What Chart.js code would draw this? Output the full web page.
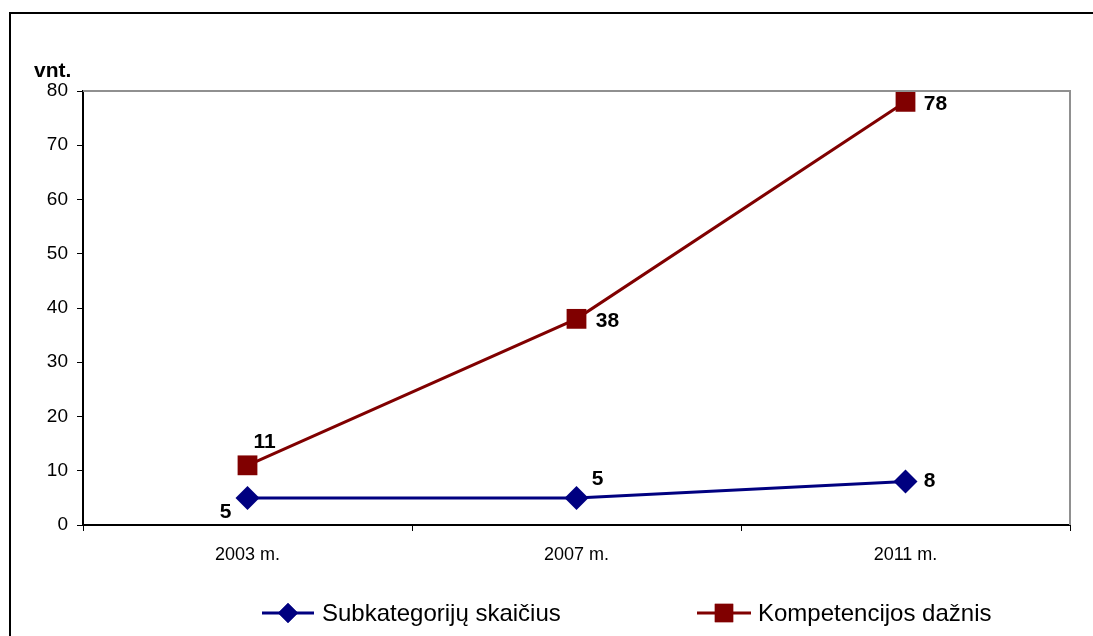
<!DOCTYPE html>
<html>
<head>
<meta charset="utf-8">
<script src="https://cdn.jsdelivr.net/npm/chart.js@4.4.0/dist/chart.umd.min.js"></script>
<style>
  html, body { margin: 0; padding: 0; background: #fff; }
  #wrap { width: 1093px; height: 636px; }
</style>
</head>
<body>
<div id="wrap"><canvas id="chart" width="1093" height="636"></canvas></div>
<script>
// duomenys
const years = ['2003 m.', '2007 m.', '2011 m.'];
const subkategorijos = [5, 5, 8];
const kompetencijos = [11, 38, 78];
const yTicks = [0, 10, 20, 30, 40, 50, 60, 70, 80];

const FONT = "'Liberation Sans', Arial, sans-serif";
const BLUE = '#000080';
const RED = '#800000';

// label offsets relative to each point (px)
const labelOffsets = [
    [[-22, 14], [21, -19], [24, 0]],
    [[17, -23], [31, 2], [30, 2]]
];

const decorPlugin = {
    id: 'decor',
    beforeDraw(chart) {
        const ctx = chart.ctx;
        ctx.save();
        ctx.fillStyle = '#fff';
        ctx.fillRect(0, 0, chart.width, chart.height);
        ctx.strokeStyle = '#000';
        ctx.lineWidth = 2;
        ctx.strokeRect(10, 13, 1200, 700);
        ctx.restore();
    },
    afterDraw(chart) {
        const ctx = chart.ctx;
        const a = chart.chartArea;
        ctx.save();
        // gray plot border top/right
        ctx.strokeStyle = '#909090';
        ctx.lineWidth = 2;
        ctx.beginPath();
        ctx.moveTo(a.left, a.top);
        ctx.lineTo(a.right, a.top);
        ctx.lineTo(a.right, a.bottom);
        ctx.stroke();

        // y axis title
        ctx.fillStyle = '#000';
        ctx.font = 'bold 21px ' + FONT;
        ctx.textAlign = 'left';
        ctx.textBaseline = 'alphabetic';
        ctx.fillText('vnt.', 34, 77);

        // data labels
        ctx.font = 'bold 21px ' + FONT;
        ctx.textAlign = 'center';
        ctx.textBaseline = 'middle';
        chart.data.datasets.forEach((ds, i) => {
            const meta = chart.getDatasetMeta(i);
            meta.data.forEach((pt, j) => {
                const off = labelOffsets[i][j];
                ctx.fillText(String(ds.data[j]), pt.x + off[0], pt.y + off[1]);
            });
        });

        // legend
        const ly = 613;
        const items = [
            { x0: 262, x1: 314, tx: 322, color: BLUE, style: 'rectRot', r: 10, text: chart.data.datasets[0].label },
            { x0: 697, x1: 751, tx: 758, color: RED, style: 'rect', r: 13, text: chart.data.datasets[1].label }
        ];
        items.forEach(it => {
            ctx.strokeStyle = it.color;
            ctx.lineWidth = 3;
            ctx.beginPath();
            ctx.moveTo(it.x0, ly);
            ctx.lineTo(it.x1, ly);
            ctx.stroke();
            ctx.fillStyle = it.color;
            Chart.helpers.drawPoint(ctx, { pointStyle: it.style, radius: it.r, borderWidth: 0, rotation: 0 }, (it.x0 + it.x1) / 2, ly);
            ctx.fill();
            ctx.fillStyle = '#000';
            ctx.font = '24px ' + FONT;
            ctx.textAlign = 'left';
            ctx.textBaseline = 'middle';
            ctx.fillText(it.text, it.tx, ly + 1);
        });
        ctx.restore();
    }
};

const canvas = document.getElementById('chart');
new Chart(canvas.getContext('2d'), {
    type: 'line',
    data: {
        labels: years,
        datasets: [{
            label: 'Subkategorijų skaičius',
            data: subkategorijos,
            borderColor: BLUE,
            backgroundColor: BLUE,
            borderWidth: 3,
            pointStyle: 'rectRot',
            pointRadius: 12,
            pointBorderWidth: 0,
            tension: 0
        }, {
            label: 'Kompetencijos dažnis',
            data: kompetencijos,
            borderColor: RED,
            backgroundColor: RED,
            borderWidth: 3,
            pointStyle: 'rect',
            pointRadius: 14,
            pointBorderWidth: 0,
            tension: 0
        }]
    },
    options: {
        responsive: false,
        animation: false,
        layout: { padding: { top: 91, right: 23, left: 0, bottom: 0 } },
        plugins: {
            legend: { display: false },
            tooltip: { enabled: false },
            title: { display: false }
        },
        scales: {
            x: {
                type: 'category',
                offset: true,
                afterFit(scale) { scale.height = 111; },
                grid: {
                    offset: true,
                    drawOnChartArea: false,
                    drawTicks: true,
                    tickLength: 6,
                    color: '#000',
                    lineWidth: 1
                },
                border: { color: '#000', width: 2 },
                ticks: {
                    color: '#000',
                    font: { family: FONT, size: 18 },
                    padding: 13,
                    maxRotation: 0
                }
            },
            y: {
                min: 0,
                max: 80,
                afterFit(scale) { scale.width = 83; },
                afterBuildTicks(scale) { scale.ticks = yTicks.map(v => ({ value: v })); },
                grid: {
                    drawOnChartArea: false,
                    drawTicks: true,
                    tickLength: 6,
                    color: '#000',
                    lineWidth: 1
                },
                border: { color: '#000', width: 2 },
                ticks: {
                    color: '#000',
                    font: { family: FONT, size: 19 },
                    padding: 9
                }
            }
        }
    },
    plugins: [decorPlugin]
});
</script>
</body>
</html>
